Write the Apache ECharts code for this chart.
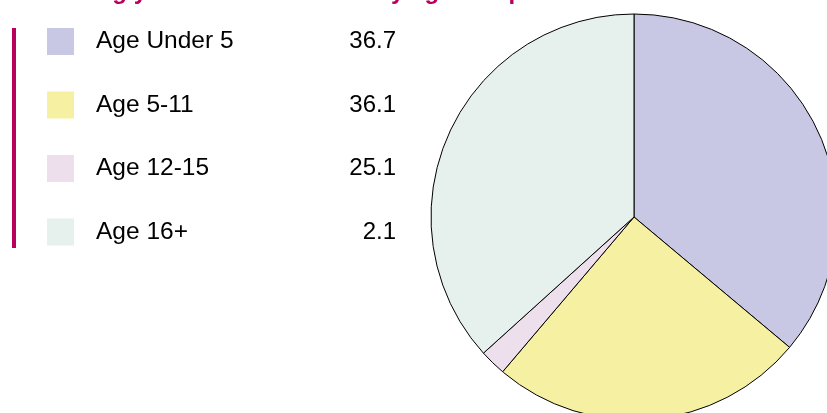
<!DOCTYPE html>
<html>
<head>
<meta charset="utf-8">
<script src="https://cdn.jsdelivr.net/npm/echarts@6/dist/echarts.min.js"></script>
<style>
  html, body { margin: 0; padding: 0; background: #fff; }
  #chart { width: 827px; height: 413px; }
</style>
</head>
<body>
<div id="chart"></div>
<script>
var categories = ['Age Under 5', 'Age 5-11', 'Age 12-15', 'Age 16+'];
// values printed next to the legend
var legendValues = [36.7, 36.1, 25.1, 2.1];
// slice sizes as drawn in the pie (clockwise from 12 o'clock)
var sliceValues = [36.1, 25.1, 2.1, 36.7];
var colors = ['#c8c8e4', '#f5f0a2', '#ede0ec', '#e6f0ec'];

var myChart = echarts.init(document.getElementById('chart'));

var option = {
	animation: false,
	title: {
		text: 'Closing year case load totals by age and phase',
		left: 34,
		top: -25,
		textStyle: {
			color: '#b8005c',
			fontFamily: 'Liberation Sans',
			fontSize: 24,
			fontWeight: 'bold',
			lineHeight: 24
		}
	},
	graphic: [{
		type: 'rect',
		shape: { x: 12, y: 28, width: 4, height: 220 },
		style: { fill: '#b8005c' }
	}],
	legend: {
		orient: 'vertical',
		left: 47,
		top: 28,
		padding: 0,
		itemWidth: 27,
		itemHeight: 27,
		itemGap: 36.5,
		selectedMode: false,
		icon: 'rect',
		itemStyle: { borderWidth: 0 },
		data: categories,
		formatter: function (name) {
			var i = categories.indexOf(name);
			return '{n|' + name + '}{v|' + legendValues[i].toFixed(1) + '}';
		},
		textStyle: {
			color: '#000',
			fontFamily: 'Liberation Sans',
			fontSize: 24,
			lineHeight: 27,
			rich: {
				n: { fontFamily: 'Liberation Sans', fontSize: 24.5, padding: [0, 0, 0, 17], width: 238 },
				v: { fontFamily: 'Liberation Sans', fontSize: 24, width: 62, align: 'right' }
			}
		}
	},
	series: [{
		type: 'pie',
		center: [634, 217],
		radius: 203,
		startAngle: 90,
		clockwise: true,
		label: { show: false },
		labelLine: { show: false },
		emphasis: { disabled: true },
		itemStyle: { borderColor: '#000', borderWidth: 1 },
		data: categories.map(function (c, i) {
			return { name: c, value: sliceValues[i], itemStyle: { color: colors[i] } };
		})
	}]
};
myChart.setOption(option);
</script>
</body>
</html>
